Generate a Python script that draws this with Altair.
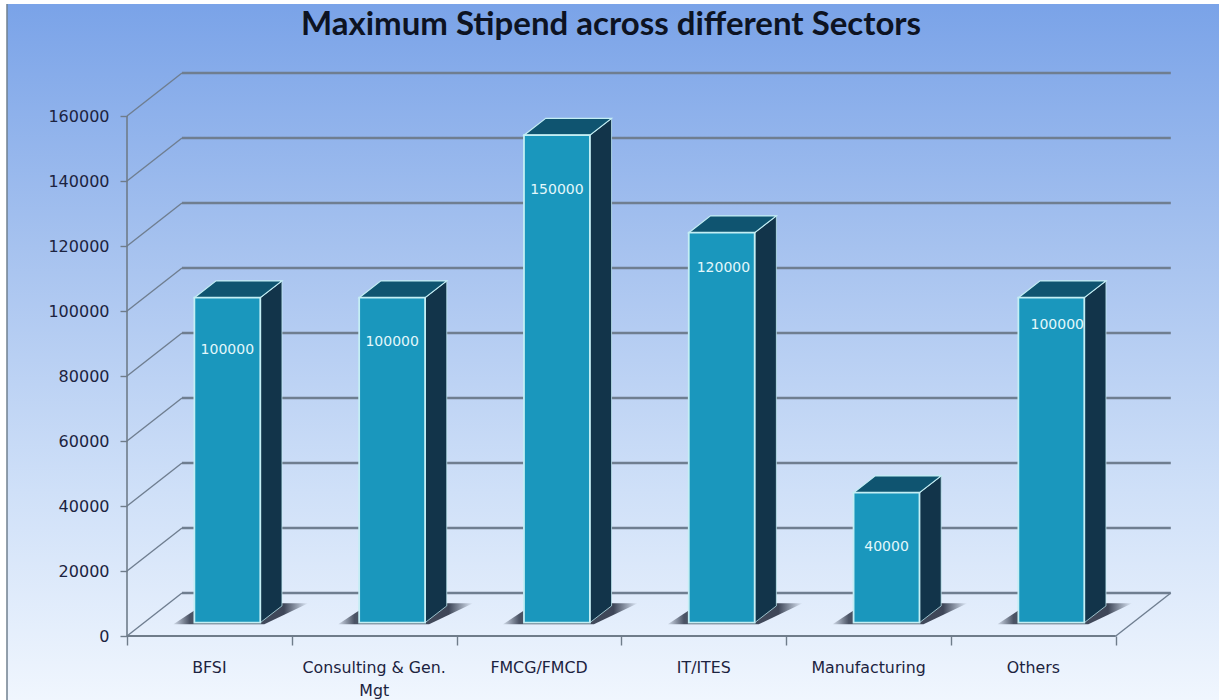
import altair as alt
import pandas as pd

chart_title = "Maximum Stipend across different Sectors"
sectors = ["BFSI", "Consulting & Gen.\nMgt", "FMCG/FMCD", "IT/ITES", "Manufacturing", "Others"]
stipends = [100000, 100000, 150000, 120000, 40000, 100000]
y_ticks = [0, 20000, 40000, 60000, 80000, 100000, 120000, 140000, 160000]

# Per-bar placement of the value labels, down from the bar top and across from its centre.
label_drop = [16000, 13500, 17000, 10800, 16600, 8300]
label_across = [0, 0, 0, 0.01, 0, 0.036]

W, H = 1219, 700
PANEL_LEFT, PANEL_TOP = 7, 4
PLOT_LEFT, PLOT_RIGHT, PLOT_TOP, PLOT_BOTTOM = 127, 1172, 73, 636
PLOT_W, PLOT_H = PLOT_RIGHT - PLOT_LEFT, PLOT_BOTTOM - PLOT_TOP
PX_PER_SLOT = 164.8
PX_PER_VALUE = 3.25 / 1000

# Oblique projection: depth d shifts a point right and up.
DEPTH_X = 55 / PX_PER_SLOT
DEPTH_Y = 43 / PX_PER_VALUE
BAR_FRONT_X, BAR_BACK_X = 0.326, 0.72
BAR_FRONT_Y, BAR_BACK_Y = 0.31, 0.70
BAR_HALF = 0.2
N = len(sectors)

GRID = "#6f7e90"
AXIS_LINE = "#6f7c8a"
FRONT = "#1a97bd"
TOP = "#0f5470"
SIDE = "#12344a"
EDGE = "#c4eef4"
INK = "#1c2340"

x_scale = alt.Scale(domain=[0, PLOT_W / PX_PER_SLOT], nice=False, zero=False)
y_scale = alt.Scale(domain=[0, PLOT_H / PX_PER_VALUE], nice=False, zero=False)

# Every layer carries the same axis definitions, so they merge into one axis per channel.
x_axis = alt.Axis(
    values=list(range(N + 1)), domain=False, grid=False, tickSize=9, tickColor=AXIS_LINE,
    tickWidth=1.4, labels=False, zindex=1,
)
y_axis = alt.Axis(
    values=y_ticks, domain=False, grid=False, tickSize=7, tickColor=AXIS_LINE, tickWidth=1.4,
    labelFont="DejaVu Sans", labelFontSize=16, labelColor=INK, labelPadding=11, format="d",
    zindex=1,
)


def X(field):
    return alt.X(f"{field}:Q", scale=x_scale, title=None, stack=None, axis=x_axis)


def Y(field):
    return alt.Y(f"{field}:Q", scale=y_scale, title=None, stack=None, axis=y_axis)


def X2(field):
    return alt.X2(f"{field}:Q")


def Y2(field):
    return alt.Y2(f"{field}:Q")


# Panel backdrop spans the whole page, past the plot area on every side.
backdrop = alt.Chart(pd.DataFrame({"a": [0]})).mark_rect(
    color=alt.LinearGradient(
        gradient="linear", x1=0, x2=0, y1=0, y2=1,
        stops=[
            alt.GradientStop(offset=0, color="#7aa3e8"),
            alt.GradientStop(offset=0.35, color="#a6c2ef"),
            alt.GradientStop(offset=0.7, color="#cfe0f8"),
            alt.GradientStop(offset=1, color="#f0f6fe"),
        ],
    )
).encode(
    x=alt.value(PANEL_LEFT - PLOT_LEFT), x2=alt.value(W - PLOT_LEFT),
    y=alt.value(PANEL_TOP - PLOT_TOP), y2=alt.value(H - PLOT_TOP),
)

left_border = alt.Chart(pd.DataFrame({"a": [0]})).mark_rule(color="#71808f", strokeWidth=1.5).encode(
    x=alt.value(PANEL_LEFT - PLOT_LEFT), y=alt.value(PANEL_TOP - PLOT_TOP), y2=alt.value(H - PLOT_TOP)
)

heading = alt.Chart(pd.DataFrame({"t": [chart_title]})).mark_text(
    font="Lato", fontSize=33, fontWeight="bold", color="#0d1322", align="center", baseline="alphabetic"
).encode(x=alt.value(611 - PLOT_LEFT), y=alt.value(35 - PLOT_TOP), text="t:N")

# Back wall and left wall gridlines.
levels = pd.DataFrame({"v": y_ticks})
levels["v_back"] = levels.v + DEPTH_Y
levels["x0"] = 0.0
levels["x_back"] = DEPTH_X
levels["x_end"] = N + DEPTH_X

back_grid = alt.Chart(levels).mark_rule(color=GRID, strokeWidth=2.4).encode(
    x=X("x_back"), x2=X2("x_end"), y=Y("v_back")
)
side_grid = alt.Chart(levels).mark_rule(color=GRID, strokeWidth=1.4).encode(
    x=X("x0"), x2=X2("x_back"), y=Y("v"), y2=Y2("v_back")
)

# Left axis line and the front and right edges of the floor.
y_axis_line = alt.Chart(pd.DataFrame({"x": [0.0], "lo": [0], "hi": [y_ticks[-1]]})).mark_rule(
    color=AXIS_LINE, strokeWidth=1.6
).encode(x=X("x"), y=Y("lo"), y2=Y2("hi"))
floor_front = alt.Chart(pd.DataFrame({"a": [0.0], "b": [float(N)], "v": [0]})).mark_rule(
    color=AXIS_LINE, strokeWidth=2
).encode(x=X("a"), x2=X2("b"), y=Y("v"))
floor_right = alt.Chart(pd.DataFrame({
    "a": [float(N)], "b": [N + DEPTH_X], "v": [0], "v2": [DEPTH_Y]
})).mark_rule(color=GRID, strokeWidth=1.4).encode(x=X("a"), x2=X2("b"), y=Y("v"), y2=Y2("v2"))

# Bar geometry derived from the stipend values.
rows = []
for i, (name, val) in enumerate(zip(sectors, stipends)):
    centre = i + 0.5 + BAR_FRONT_X * DEPTH_X
    rows.append({
        "i": i, "val": val, "xl": centre - BAR_HALF, "xr": centre + BAR_HALF,
        "base": BAR_FRONT_Y * DEPTH_Y, "top": val + BAR_FRONT_Y * DEPTH_Y,
        "label_y": val + BAR_FRONT_Y * DEPTH_Y - label_drop[i],
        "label_x": centre + label_across[i],
    })
bars = pd.DataFrame(rows)
shift_x = (BAR_BACK_X - BAR_FRONT_X) * DEPTH_X
shift_y = (BAR_BACK_Y - BAR_FRONT_Y) * DEPTH_Y

side_rows, top_rows, shadow_rows = [], [], []
for r in bars.itertuples():
    for t in (0, 1):
        side_rows.append({"i": r.i, "x": r.xr + t * shift_x, "lo": r.base + t * shift_y, "hi": r.top + t * shift_y})
        top_rows.append({"i": r.i, "y": r.top + t * shift_y, "l": r.xl + t * shift_x, "r": r.xr + t * shift_x})
        shadow_rows.append({
            "i": r.i,
            "y": r.base - 500 + t * 21 / PX_PER_VALUE,
            "l": r.xl - 21 / PX_PER_SLOT + t * 32 / PX_PER_SLOT,
            "r": r.xr + 4 / PX_PER_SLOT + t * 44 / PX_PER_SLOT,
        })
sides = pd.DataFrame(side_rows)
tops = pd.DataFrame(top_rows)
shadows = pd.DataFrame(shadow_rows)

shadow_layer = alt.Chart(shadows).mark_area(
    orient="horizontal",
    color=alt.LinearGradient(
        gradient="linear", x1=0, x2=1, y1=0, y2=0,
        stops=[
            alt.GradientStop(offset=0, color="rgba(48,56,74,0.1)"),
            alt.GradientStop(offset=0.12, color="rgba(48,56,74,0.85)"),
            alt.GradientStop(offset=0.82, color="rgba(48,56,74,0.92)"),
            alt.GradientStop(offset=1, color="rgba(48,56,74,0)"),
        ],
    ),
).encode(y=Y("y"), x=X("l"), x2=X2("r"), detail="i:N")

side_layer = alt.Chart(sides).mark_area(
    orient="vertical", color=SIDE, stroke=EDGE, strokeWidth=1, strokeOpacity=0.75
).encode(x=X("x"), y=Y("hi"), y2=Y2("lo"), detail="i:N")

top_layer = alt.Chart(tops).mark_area(
    orient="horizontal", color=TOP, stroke=EDGE, strokeWidth=1.2
).encode(y=Y("y"), x=X("l"), x2=X2("r"), detail="i:N")

front_layer = alt.Chart(bars).mark_rect(color=FRONT, stroke=EDGE, strokeWidth=1.8).encode(
    x=X("xl"), x2=X2("xr"), y=Y("top"), y2=Y2("base")
)

value_labels = alt.Chart(bars).mark_text(
    font="DejaVu Sans", fontSize=14, color="#e3f8fb", baseline="middle", align="center"
).encode(x=X("label_x"), y=Y("label_y"), text=alt.Text("val:Q", format="d"))

category_labels = alt.Chart(pd.DataFrame({
    "name": sectors, "x": [i + 0.5 for i in range(N)]
})).mark_text(
    font="DejaVu Sans", fontSize=15.8, color=INK, baseline="alphabetic", align="center",
    lineBreak="\n", lineHeight=23,
).encode(x=X("x"), y=alt.value(673 - PLOT_TOP), text="name:N")

chart = alt.layer(
    backdrop, left_border, heading, back_grid, side_grid, y_axis_line, floor_front, floor_right,
    shadow_layer, side_layer, top_layer, front_layer, value_labels, category_labels,
).properties(
    width=PLOT_W, height=PLOT_H,
    padding={"left": PLOT_LEFT, "top": PLOT_TOP, "right": W - PLOT_RIGHT, "bottom": H - PLOT_BOTTOM},
    autosize=alt.AutoSizeParams(type="none"),
    background="#ffffff",
).configure_view(stroke=None)

chart.save("out.html", embed_options={"renderer": "svg", "actions": False})
